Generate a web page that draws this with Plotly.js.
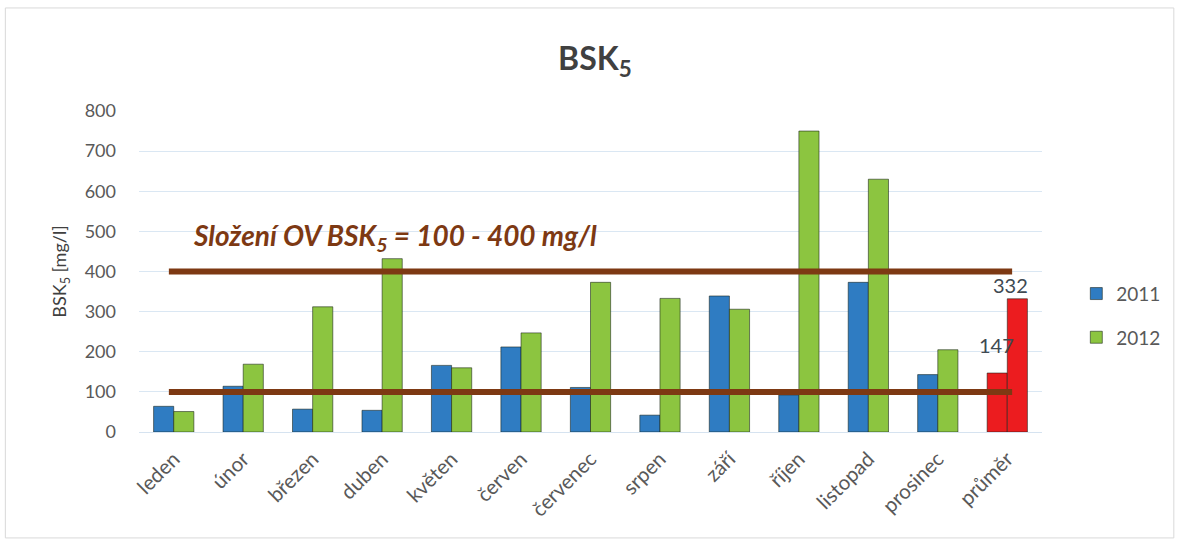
<!DOCTYPE html>
<html>
<head>
<meta charset="utf-8">
<script src="https://cdn.plot.ly/plotly-3.0.1.min.js"></script>
<style>html,body{margin:0;padding:0;background:#fff;}#chart{width:1178px;height:539px;}</style>
</head>
<body>
<div id="chart"></div>
<script>
// ---- data ----
const categories = ['leden','únor','březen','duben','květen','červen','červenec','srpen','září','říjen','listopad','prosinec','průměr'];
const values2011 = [64, 114, 57, 54, 166, 212, 111, 42, 339, 92, 373, 143, 147];
const values2012 = [51, 169, 312, 432, 160, 247, 373, 333, 306, 750, 630, 205, 332];
const seriesNames = ['2011', '2012'];
const limits = [100, 400];
const yTicks = [0, 100, 200, 300, 400, 500, 600, 700, 800];
const averageLabel = 'průměr';

// ---- style ----
const FONT = 'Lato, "Open Sans", "DejaVu Sans", sans-serif';
const blue = '#2f7cc2', green = '#8cc540', red = '#ec1c1f', brown = '#7d3913';
const colorsFor = (base) => categories.map(c => c === averageLabel ? red : base);
const avgIdx = categories.indexOf(averageLabel);

const mkTrace = (name, vals, base, grp) => ({
  type: 'bar', name: name, x: categories, y: vals,
  legendgroup: grp,
  marker: {color: colorsFor(base), line: {color: 'rgba(20,30,20,0.55)', width: 1}},
  hoverinfo: 'x+y+name'
});

const traces = [
  mkTrace(seriesNames[0], values2011, blue, 'a'),
  mkTrace(seriesNames[1], values2012, green, 'b')
];

const shapes = limits.map(v => ({
  type: 'line', xref: 'x', yref: 'y', x0: -0.07, x1: 12.07, y0: v, y1: v,
  line: {color: brown, width: 6}, layer: 'above'
}));
shapes.push({
  type: 'rect', xref: 'paper', yref: 'paper', x0: -0.148, x1: 1.146, y0: -0.33, y1: 1.321,
  line: {color: '#d9d9d9', width: 1}, fillcolor: 'rgba(0,0,0,0)', layer: 'below'
});

const labelFont = {family: FONT, size: 20, color: '#404a52'};
const annotations = [
  {
    xref: 'paper', yref: 'paper', x: 0.058, y: 0.607, xanchor: 'left', yanchor: 'middle',
    showarrow: false,
    text: '<b><i>Složení OV BSK<sub>5</sub> = 100 - 400 mg/l</i></b>',
    font: {family: FONT, size: 28, color: brown}
  },
  {
    xref: 'x', yref: 'y', x: categories[avgIdx], y: values2011[avgIdx],
    xanchor: 'center', yanchor: 'bottom', xshift: -11, yshift: 14,
    showarrow: false, text: String(values2011[avgIdx]), font: labelFont
  },
  {
    xref: 'x', yref: 'y', x: categories[avgIdx], y: values2012[avgIdx],
    xanchor: 'center', yanchor: 'bottom', xshift: 3, yshift: 0,
    showarrow: false, text: String(values2012[avgIdx]), font: labelFont
  }
];

const layout = {
  width: 1178, height: 539,
  margin: {l: 139, r: 133, t: 111, b: 107},
  paper_bgcolor: '#ffffff', plot_bgcolor: '#ffffff',
  font: {family: FONT, color: '#595959'},
  title: {
    text: '<b>BSK<sub>5</sub></b>', xref: 'container', yref: 'container',
    x: 0.505, xanchor: 'center', y: 0.89, yanchor: 'middle',
    font: {family: FONT, size: 32, color: '#404040'}
  },
  barmode: 'group', bargap: 0.42, bargroupgap: 0,
  xaxis: {
    type: 'category', tickangle: -45, showgrid: false, ticks: '',
    tickfont: {family: FONT, size: 20.5, color: '#595959'},
    showline: true, linecolor: '#d6e3f0', linewidth: 1,
    ticklabelstandoff: 6
  },
  yaxis: {
    range: [0, 800], tickvals: yTicks, ticks: '',
    showgrid: true, gridcolor: '#dae7f3', gridwidth: 1,
    zeroline: false, showline: false,
    tickfont: {family: FONT, size: 18, color: '#595959'},
    ticklabelstandoff: 22,
    title: {text: 'BSK<sub>5</sub> [mg/l]', font: {family: FONT, size: 18, color: '#404040'}, standoff: 13}
  },
  legend: {
    x: 1.038, xanchor: 'left', y: 0.49, yanchor: 'top',
    font: {family: FONT, size: 19, color: '#595959'},
    tracegroupgap: 16, bgcolor: 'rgba(0,0,0,0)'
  },
  showlegend: true,
  shapes: shapes,
  annotations: annotations
};

Plotly.newPlot('chart', traces, layout, {displayModeBar: false, responsive: false});
</script>
</body>
</html>
